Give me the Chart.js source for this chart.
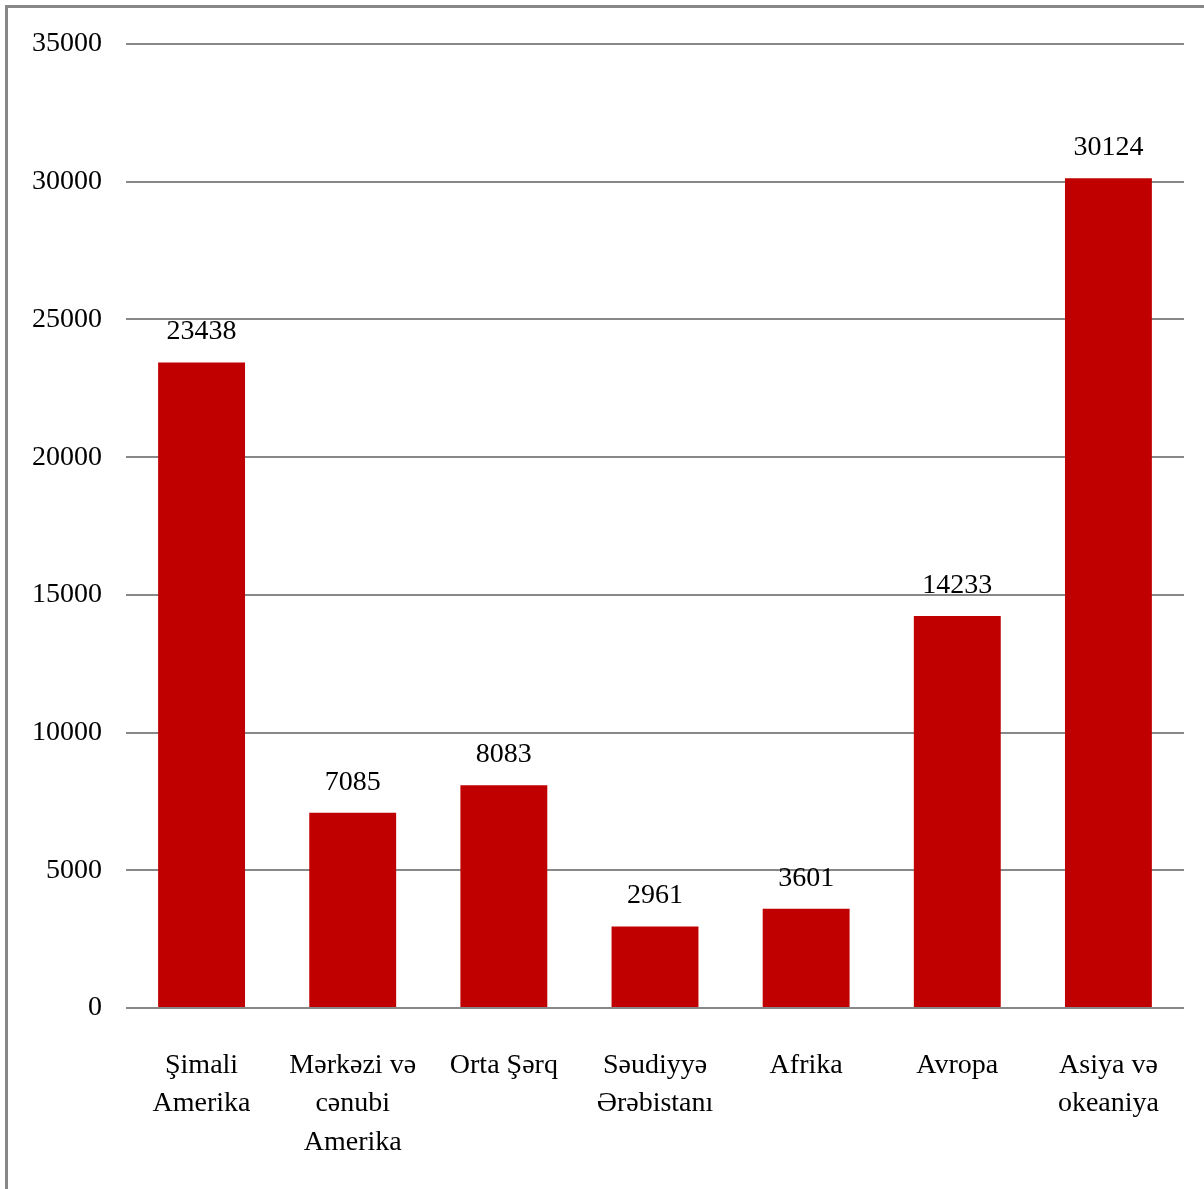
<!DOCTYPE html>
<html>
<head>
<meta charset="utf-8">
<script src="https://cdn.jsdelivr.net/npm/chart.js@4"></script>
<style>
  body { margin: 0; background: #fff; }
  #wrap { position: relative; width: 1204px; height: 1189px; overflow: hidden; }
  #frame { position: absolute; left: 5px; top: 5px; width: 1300px; height: 1300px;
           border-left: 3px solid #888; border-top: 3px solid #888; }
  #myChart { position: absolute; left: 0; top: 0; }
</style>
</head>
<body>
<div id="wrap">
  <div id="frame"></div>
  <canvas id="myChart" width="1204" height="1189"></canvas>
</div>
<script>
// regions and their totals
var regions = [
  ["Şimali", "Amerika"],
  ["Mərkəzi və", "cənubi", "Amerika"],
  ["Orta Şərq"],
  ["Səudiyyə", "Ərəbistanı"],
  ["Afrika"],
  ["Avropa"],
  ["Asiya və", "okeaniya"]
];
var totals = [23438, 7085, 8083, 2961, 3601, 14233, 30124];
var yTicks = [0, 5000, 10000, 15000, 20000, 25000, 30000, 35000];

var textFont = { family: "'Liberation Serif', 'Times New Roman', serif", size: 28 };

// value labels above each bar
var barValues = {
  id: "barValues",
  afterDatasetsDraw: function(chart) {
    var ctx = chart.ctx;
    var meta = chart.getDatasetMeta(0);
    ctx.save();
    ctx.font = textFont.size + "px " + textFont.family;
    ctx.fillStyle = "#000";
    ctx.textAlign = "center";
    ctx.textBaseline = "alphabetic";
    meta.data.forEach(function(bar, i) {
      ctx.fillText(String(totals[i]), bar.x, bar.y - 23);
    });
    ctx.restore();
  }
};

var chartData = {
  labels: regions,
  datasets: [
    {
      label: "Regionlar",
      backgroundColor: "#C00000",
      data: totals,
      categoryPercentage: 1,
      barPercentage: 0.575
    }
  ]
};

const config = {
  type: "bar",
  data: chartData,
  options: {
    responsive: false,
    animation: false,
    layout: { padding: { left: 0, right: 20, top: 44, bottom: 0 } },
    plugins: {
      legend: { display: false },
      tooltip: { enabled: false }
    },
    scales: {
      x: {
        grid: { display: false },
        border: { display: false },
        ticks: {
          color: "#000",
          font: Object.assign({ lineHeight: 1.38 }, textFont),
          padding: 30,
          maxRotation: 0,
          autoSkip: false
        },
        afterFit: function(s) { s.height = 181; }
      },
      y: {
        min: 0,
        max: 35000,
        afterBuildTicks: function(s) { s.ticks = yTicks.map(function(v) { return { value: v }; }); },
        grid: { color: "#888", lineWidth: 2, drawTicks: false },
        border: { display: false },
        ticks: {
          color: "#000",
          font: textFont,
          padding: 24,
          callback: function(v) { return String(v); }
        },
        afterFit: function(s) { s.width = 126; }
      }
    }
  },
  plugins: [barValues]
};

const myChart = new Chart(document.getElementById("myChart"), config);
</script>
</body>
</html>
